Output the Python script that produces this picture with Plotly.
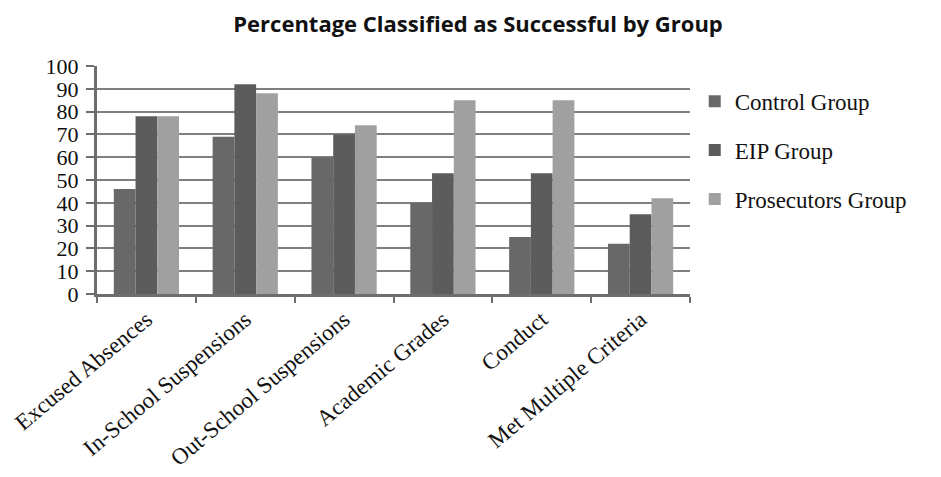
import plotly.graph_objects as go

# Outcome categories and the share (%) of each group classified as successful
categories = ["Excused Absences", "In-School Suspensions", "Out-School Suspensions",
              "Academic Grades", "Conduct", "Met Multiple Criteria"]
control_group = [46, 69, 60, 40, 25, 22]
eip_group = [78, 92, 70, 53, 53, 35]
prosecutors_group = [78, 88, 74, 85, 85, 42]

series = [
    ("Control Group", control_group, "#686868"),
    ("EIP Group", eip_group, "#5c5c5c"),
    ("Prosecutors Group", prosecutors_group, "#a0a0a0"),
]

serif = "Liberation Serif, Times New Roman, serif"

fig = go.Figure()
for name, values, color in series:
    fig.add_trace(go.Bar(
        x=categories, y=values, name=name, legendgroup=name,
        marker=dict(color=color, line=dict(width=0)),
    ))

fig.update_layout(
    width=941, height=477,
    barmode="group", bargap=0.34, bargroupgap=0,
    plot_bgcolor="white", paper_bgcolor="white",
    margin=dict(l=97, r=251, t=66, b=183, autoexpand=False),
    title=dict(text="<b>Percentage Classified as Successful by Group</b>",
               x=0.508, xanchor="center", y=0.95, yanchor="middle",
               font=dict(family="Open Sans, sans-serif", size=22, color="#111")),
    legend=dict(x=1.008, xanchor="left", y=0.94, yanchor="top",
                font=dict(family=serif, size=23, color="#111"),
                traceorder="grouped", tracegroupgap=16,
                itemwidth=30),
    showlegend=True,
)

fig.update_yaxes(range=[0, 100], dtick=10, automargin=False,
                 showgrid=True, gridcolor="#7f7f7f", gridwidth=2,
                 showline=True, linecolor="#6e6e6e", linewidth=3,
                 ticks="outside", ticklen=8, tickwidth=2, tickcolor="#6e6e6e",
                 ticklabelstandoff=3,
                 tickfont=dict(family=serif, size=22, color="#111"),
                 zeroline=False)
fig.update_xaxes(automargin=False,
                 showline=True, linecolor="#6e6e6e", linewidth=3,
                 ticks="outside", tickson="boundaries", ticklen=6, tickwidth=2,
                 tickcolor="#6e6e6e", tickangle=-40,
                 tickfont=dict(family=serif, size=23, color="#111"))

fig.write_html("out.html")
